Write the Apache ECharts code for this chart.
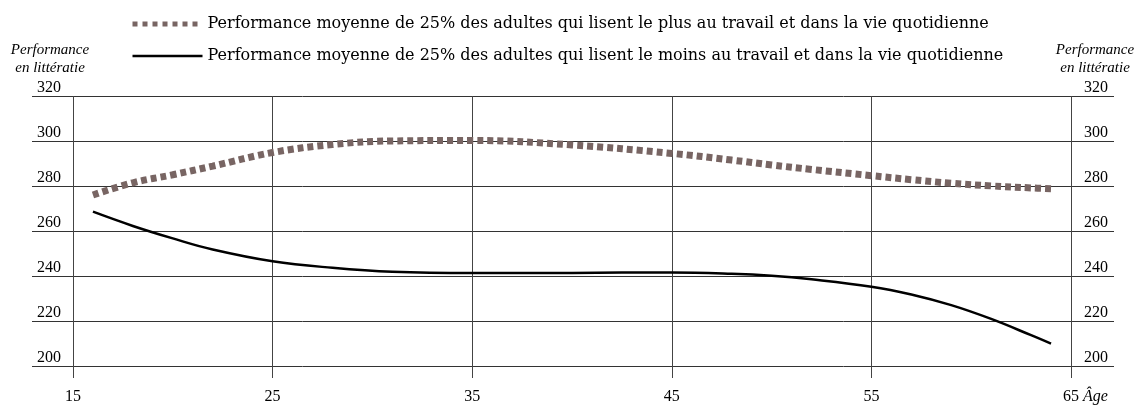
<!DOCTYPE html>
<html>
<head>
<meta charset="utf-8">
<script src="https://cdn.jsdelivr.net/npm/echarts@6/dist/echarts.min.js"></script>
<style>
  html, body { margin: 0; padding: 0; background: #fff; }
  #chart { width: 1135px; height: 405px; }
</style>
</head>
<body>
<div id="chart"></div>
<script>
// données
var ages = [16, 18, 20, 22, 25, 28, 31, 35, 40, 45, 48, 50, 52, 55, 57, 59, 61, 63, 64];
var plusLisent = [275.5, 281, 284.6, 288.5, 294.6, 298.2, 299.8, 300, 298, 294.2, 291.2, 289, 287, 284.2, 282.4, 280.8, 279.6, 278.7, 278.3];
var moinsLisent = [268, 261.6, 256, 251, 245.7, 242.8, 241, 240.4, 240.5, 240.7, 240.1, 239.2, 237.6, 234.3, 230.8, 226, 219.8, 212.5, 208.7];
var nomPlus = 'Performance moyenne de 25% des adultes qui lisent le plus au travail et dans la vie quotidienne';
var nomMoins = 'Performance moyenne de 25% des adultes qui lisent le moins au travail et dans la vie quotidienne';

var font = 'Liberation Serif';
var fontLegende = 'DejaVu Serif';

function pairs(xs, ys) {
  return xs.map(function (x, i) { return [x, ys[i]]; });
}

var chart = echarts.init(document.getElementById('chart'));

var italique = { fontFamily: font, fontStyle: 'italic', fontSize: 15, lineHeight: 18, fill: '#000', textAlign: 'center' };

var option = {
  animation: false,
  textStyle: { fontFamily: font, color: '#000' },
  graphic: [
    { type: 'text', x: 50, y: 41, style: Object.assign({ text: 'Performance\nen littératie' }, italique) },
    { type: 'text', x: 1095, y: 41, style: Object.assign({ text: 'Performance\nen littératie' }, italique) },
    { type: 'text', x: 1083, y: 389, style: { text: 'Âge', fontFamily: font, fontStyle: 'italic', fontSize: 16, fill: '#000' } }
  ],
  legend: {
    orient: 'vertical',
    left: 125, top: 11,
    itemWidth: 70, itemHeight: 8,
    itemGap: 16,
    textStyle: { fontFamily: fontLegende, fontSize: 16, color: '#000' },
    data: [
      { name: nomPlus, itemStyle: { opacity: 0 }, lineStyle: { width: 5, type: [5, 5], color: '#786563' } },
      { name: nomMoins, itemStyle: { opacity: 0 }, lineStyle: { width: 2.5, color: '#000' } }
    ]
  },
  grid: [
    { left: 73, right: 64, top: 96, bottom: 39 },
    { left: 32, right: 21, top: 96, bottom: 39 }
  ],
  xAxis: [
    {
      type: 'value', gridIndex: 0, min: 15, max: 65, interval: 10,
      axisLine: { show: false },
      axisTick: { show: true, length: 15, lineStyle: { color: '#444', width: 1 } },
      axisLabel: { fontFamily: font, fontSize: 16, color: '#000', margin: 26 },
      splitLine: { show: true, lineStyle: { color: '#444', width: 1 } }
    },
    { type: 'value', gridIndex: 1, min: 0, max: 1, show: false }
  ],
  yAxis: [
    { type: 'value', gridIndex: 0, min: 200, max: 320, interval: 20, show: false },
    {
      type: 'value', gridIndex: 1, min: 200, max: 320, interval: 20, position: 'left',
      axisLine: { show: false }, axisTick: { show: false },
      axisLabel: { inside: true, margin: 5, verticalAlign: 'bottom', fontFamily: font, fontSize: 16, color: '#000' },
      splitLine: { show: true, lineStyle: { color: '#333', width: 1 } }
    },
    {
      type: 'value', gridIndex: 1, min: 200, max: 320, interval: 20, position: 'right',
      axisLine: { show: false }, axisTick: { show: false },
      axisLabel: { inside: true, margin: 6, verticalAlign: 'bottom', fontFamily: font, fontSize: 16, color: '#000' },
      splitLine: { show: false }
    }
  ],
  series: [
    {
      name: nomPlus,
      type: 'line',
      xAxisIndex: 0, yAxisIndex: 0,
      data: pairs(ages, plusLisent),
      smooth: 0.4,
      symbol: 'none',
      lineStyle: { color: '#786563', width: 7, type: [6, 4] },
      itemStyle: { color: '#786563' },
      z: 3
    },
    {
      name: nomMoins,
      type: 'line',
      xAxisIndex: 0, yAxisIndex: 0,
      data: pairs(ages, moinsLisent),
      smooth: 0.4,
      symbol: 'none',
      lineStyle: { color: '#000', width: 2.5 },
      itemStyle: { color: '#000' },
      z: 3
    }
  ]
};

chart.setOption(option);
</script>
</body>
</html>
